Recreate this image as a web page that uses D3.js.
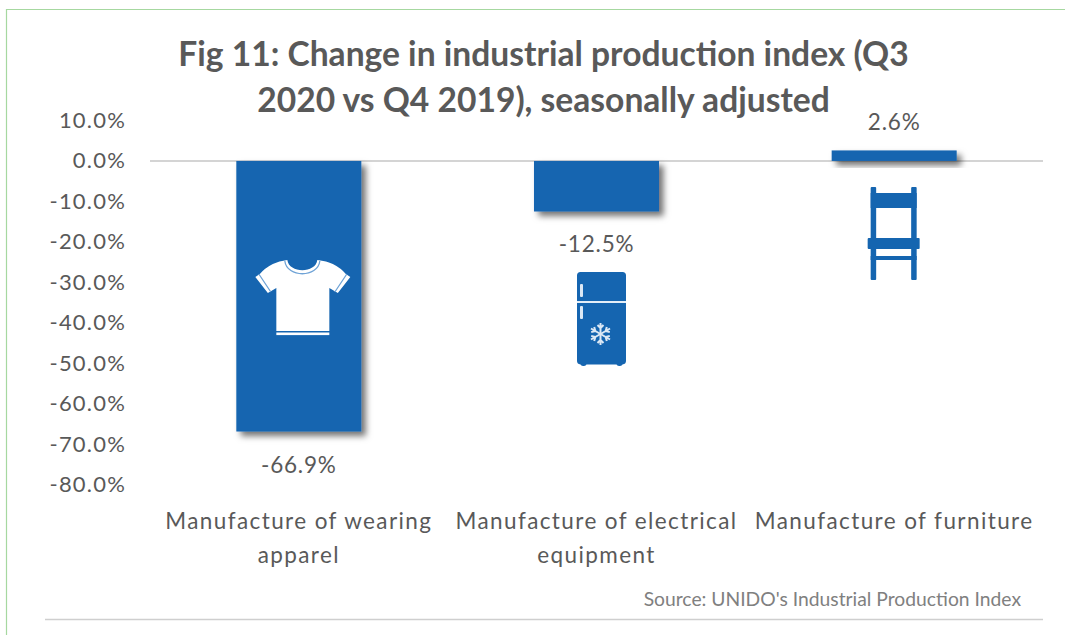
<!DOCTYPE html>
<html>
<head>
<meta charset="utf-8">
<script src="https://cdnjs.cloudflare.com/ajax/libs/d3/7.8.5/d3.min.js"></script>
<style>
html,body{margin:0;padding:0;background:#fff;overflow:hidden}
svg{display:block}
text{font-family:Lato,"Open Sans",sans-serif}
</style>
</head>
<body>
<svg id="chart" width="1065" height="635"></svg>
<script>
const categories = [["Manufacture of wearing","apparel"],["Manufacture of electrical","equipment"],["Manufacture of furniture"]];
const values = [-66.9,-12.5,2.6];
const valueLabels = ["-66.9%","-12.5%","2.6%"];
const tickValues = [10,0,-10,-20,-30,-40,-50,-60,-70,-80];
const titleLines = ["Fig 11: Change in industrial production index (Q3","2020 vs Q4 2019), seasonally adjusted"];
const sourceNote = "Source: UNIDO's Industrial Production Index";

const BLUE = "#1565b0", GREY = "#595959";
const svg = d3.select("#chart");

// Drop shadow shared by the three bars
const shadow = svg.append("defs").append("filter").attr("id","barShadow")
  .attr("x","-10%").attr("y","-40%").attr("width","125%").attr("height","200%");
shadow.append("feDropShadow").attr("dx",4.5).attr("dy",4.5).attr("stdDeviation",3)
  .attr("flood-color","#000").attr("flood-opacity",0.55);

// Panel outline: top and left edges only
svg.append("path").attr("d","M6.5,635V9.5H1065").attr("fill","none").attr("stroke","#a6d8a0").attr("stroke-width",1.2);
// Rule under the source note
svg.append("line").attr("x1",45).attr("x2",1043).attr("y1",619.5).attr("y2",619.5).attr("stroke","#cfcfcf").attr("stroke-width",1.3);

const x = d3.scaleBand().domain(d3.range(categories.length)).range([150,1043]).paddingInner(0.58).paddingOuter(0.29);
const y = d3.scaleLinear().domain([10,-80]).range([120.5,484.5]);

// Title
svg.append("g").selectAll("text").data(titleLines).join("text")
  .attr("x",543.5).attr("y",(d,i)=>66+i*45.5).attr("text-anchor","middle")
  .attr("font-size",33.6).attr("font-weight",700).attr("fill",GREY).text(d=>d);

// Value axis, labels only; ticks keep a plain hyphen for negatives
const yAxis = svg.append("g").attr("transform","translate(126,0)")
  .call(d3.axisLeft(y).tickValues(tickValues).tickSize(0).tickPadding(0).tickFormat(d=>d.toFixed(1)+"%"));
yAxis.select(".domain").remove();
yAxis.selectAll("text").attr("font-size",22).attr("letter-spacing",1.2).attr("fill",GREY).attr("font-family","Lato,'Open Sans',sans-serif");

// Zero line sits under the bars
svg.append("line").attr("x1",150).attr("x2",1043).attr("y1",y(0)).attr("y2",y(0))
  .attr("stroke","#d4d4d4").attr("stroke-width",2);

// Bars
svg.append("g").selectAll("rect").data(values).join("rect")
  .attr("x",(d,i)=>x(i)).attr("width",x.bandwidth())
  .attr("y",d=>y(Math.max(d,0))).attr("height",d=>Math.abs(y(d)-y(0)))
  .attr("fill",BLUE).attr("filter","url(#barShadow)");

// Value labels
const labelOffset = [34,33,-27];
svg.append("g").selectAll("text").data(values).join("text")
  .attr("x",(d,i)=>x(i)+x.bandwidth()/2).attr("y",(d,i)=>y(d)+labelOffset[i]+7)
  .attr("text-anchor","middle").attr("font-size",22.5).attr("letter-spacing",0.8).attr("fill",GREY).text((d,i)=>valueLabels[i]);

// Category labels
const cat = svg.append("g").selectAll("text").data(categories).join("text")
  .attr("text-anchor","middle").attr("font-size",22.5).attr("letter-spacing",1.4).attr("fill",GREY);
cat.selectAll("tspan").data((d,i)=>d.map(t=>({t,i}))).join("tspan")
  .attr("x",d=>x(d.i)+x.bandwidth()/2).attr("y",(d,j)=>529+j*34).text(d=>d.t);

// Source note
svg.append("text").attr("x",1021).attr("y",606).attr("text-anchor","end")
  .attr("font-size",19.3).attr("fill","#808080").text(sourceNote);

// T-shirt pictogram, drawn around its own centre
const centre = i => x(i)+x.bandwidth()/2;
const shirt = svg.append("g").attr("transform",`translate(${centre(0)+4},295)`);
shirt.append("path").attr("fill","#fff").attr("d",
  "M-15.5,-35C-14,-21.5 13,-21.5 14.5,-35Q24,-34 30,-31Q38,-27 43,-21L47.5,-18L35,-2L26.5,-7V36H-26.5V-7L-35,-2L-47.5,-18L-43,-21Q-38,-27 -30,-31Q-24,-34 -15.5,-35Z");
shirt.append("path").attr("fill","none").attr("stroke","#6fa3d6").attr("stroke-width",1.3)
  .attr("d","M-18,-34C-16,-17 15,-17 17,-34M-44,-21L-32,-3M44,-21L32,-3");
shirt.append("rect").attr("x",-26.5).attr("y",37.5).attr("width",53).attr("height",2.6).attr("fill","#fff");

// Refrigerator pictogram
const fridge = svg.append("g").attr("transform",`translate(${centre(1)+5},319)`);
fridge.append("path").attr("fill",BLUE).attr("d",
  "M-21,-47H21Q24.5,-47 24.5,-43.5V42Q24.5,45 21,45.5Q20,47 18,47Q16,47 15,45.5H-15Q-16,47 -18,47Q-20,47 -21,45.5Q-24.5,45 -24.5,42V-43.5Q-24.5,-47 -21,-47Z");
fridge.append("line").attr("x1",-24.5).attr("x2",24.5).attr("y1",-17).attr("y2",-17).attr("stroke","#e4eef8").attr("stroke-width",2);
fridge.selectAll("rect.handle").data([-35,-13]).join("rect").attr("class","handle")
  .attr("x",-21.5).attr("y",d=>d).attr("width",3).attr("height",13).attr("rx",1).attr("fill","#dbe8f5");
const flake = fridge.append("g").attr("transform","translate(-1,15)").attr("stroke","#dbe8f5").attr("stroke-width",2).attr("fill","none");
[0,60,120].forEach(a=>{
  const arm = flake.append("g").attr("transform",`rotate(${a})`);
  arm.append("path").attr("d","M0,-11V11M-3,-9L0,-6L3,-9M-3,9L0,6L3,9");
});

// Chair pictogram
const chair = svg.append("g").attr("transform",`translate(${centre(2)-0.5},233.5)`).attr("fill",BLUE);
chair.selectAll("rect.post").data([-23,17.5]).join("rect").attr("class","post")
  .attr("x",d=>d).attr("y",-46.5).attr("width",5.5).attr("height",93).attr("rx",1);
chair.append("rect").attr("x",-23).attr("y",-40.5).attr("width",46).attr("height",15);
chair.append("rect").attr("x",-26).attr("y",4.5).attr("width",52).attr("height",11).attr("rx",1);
chair.append("rect").attr("x",-23).attr("y",22.5).attr("width",46).attr("height",4);
</script>
</body>
</html>
